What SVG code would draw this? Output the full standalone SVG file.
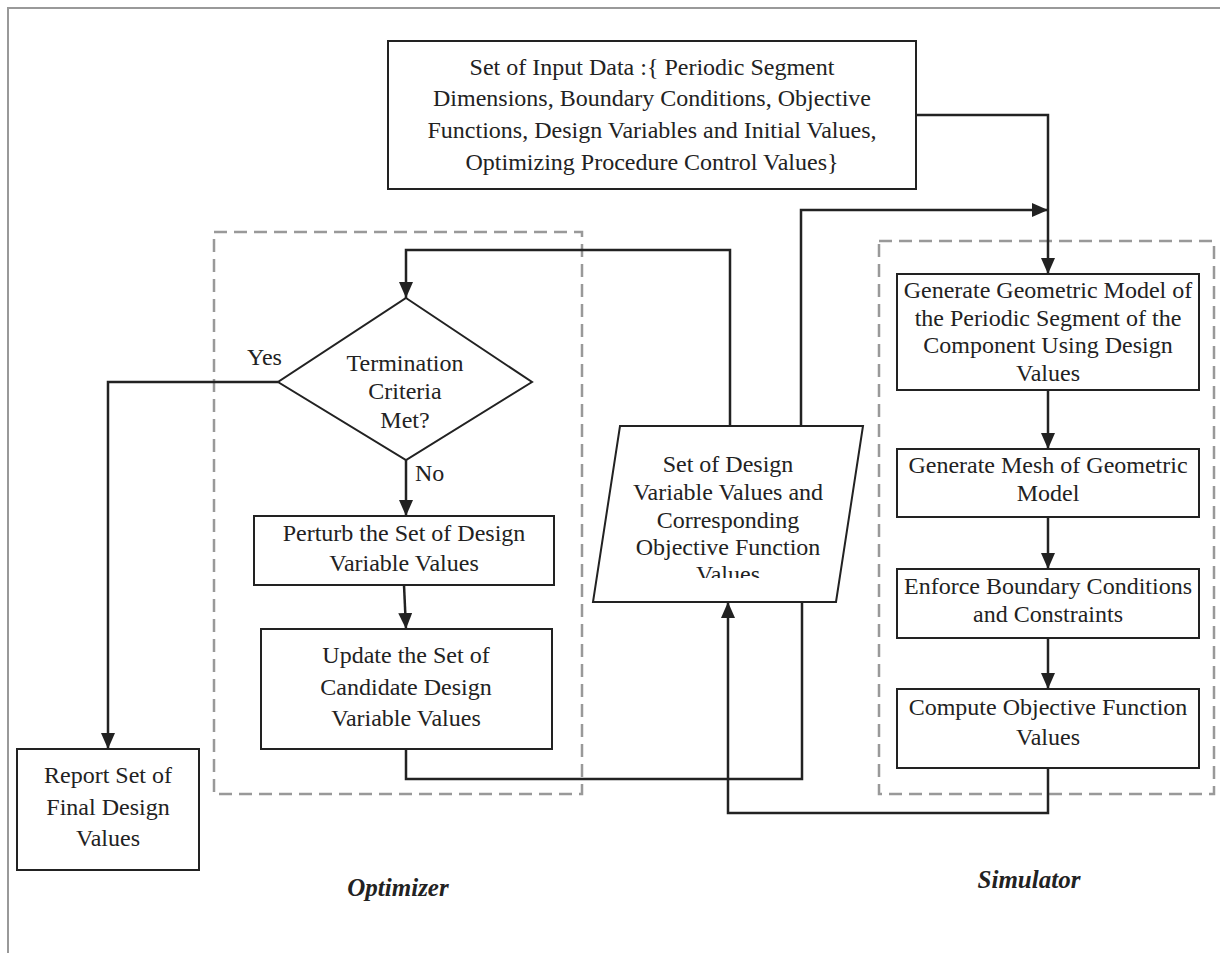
<svg xmlns="http://www.w3.org/2000/svg" width="1220" height="953" viewBox="0 0 1220 953">
  <style>
    .box { fill: #fff; stroke: #222; stroke-width: 2; }
    .frame { fill: none; stroke: #999; stroke-width: 2.5; stroke-dasharray: 13 7; }
    .wire { fill: none; stroke: #222; stroke-width: 2.5; }
    .txt { font-family: "Liberation Serif", "Times New Roman", serif; font-size: 24px; fill: #222; text-anchor: middle; }
    .lbl { font-family: "Liberation Serif", "Times New Roman", serif; font-size: 24px; fill: #222; }
    .title { font-family: "Liberation Serif", "Times New Roman", serif; font-size: 25px; font-weight: bold; font-style: italic; fill: #222; text-anchor: middle; }
  </style>
  <defs>
    <marker id="arrow" markerUnits="userSpaceOnUse" markerWidth="16" markerHeight="14" refX="16" refY="7" orient="auto">
      <path d="M0,0 L16,7 L0,14 Z" fill="#222"/>
    </marker>
    <clipPath id="storeClip">
      <rect x="580" y="420" width="300" height="158"/>
    </clipPath>
  </defs>

  <rect width="1220" height="953" fill="#fff"/>
  <!-- page frame -->
  <rect x="8" y="8" width="1230" height="960" fill="none" stroke="#999" stroke-width="2"/>

  <!-- module outlines -->
  <rect class="frame" x="214" y="232" width="368" height="562"/>
  <rect class="frame" x="879" y="241" width="335" height="553"/>

  <!-- connectors -->
  <g id="connectors">
    <polyline class="wire" points="916,115 1048,115 1048,274" marker-end="url(#arrow)"/>
    <polyline class="wire" points="801,426 801,210 1048,210" marker-end="url(#arrow)"/>
    <polyline class="wire" points="730,426 730,250 406,250 406,298" marker-end="url(#arrow)"/>
    <line class="wire" x1="406" y1="460" x2="406" y2="516" marker-end="url(#arrow)"/>
    <line class="wire" x1="404" y1="585" x2="406" y2="629" marker-end="url(#arrow)"/>
    <polyline class="wire" points="406,749 406,779 802,779 802,602"/>
    <polyline class="wire" points="1048,768 1048,813 728,813 728,602" marker-end="url(#arrow)"/>
    <polyline class="wire" points="278,382 108,382 108,749" marker-end="url(#arrow)"/>
    <line class="wire" x1="1048" y1="390" x2="1048" y2="449" marker-end="url(#arrow)"/>
    <line class="wire" x1="1048" y1="517" x2="1048" y2="569" marker-end="url(#arrow)"/>
    <line class="wire" x1="1048" y1="638" x2="1048" y2="689" marker-end="url(#arrow)"/>
    <text class="lbl" x="247" y="365">Yes</text>
    <text class="lbl" x="415" y="481">No</text>
  </g>

  <g id="input-data">
    <rect class="box" x="388" y="41" width="528" height="148" stroke-width="2.5"/>
    <text class="txt" x="652" y="75">Set of Input Data :{ Periodic Segment</text>
    <text class="txt" x="652" y="106">Dimensions, Boundary Conditions, Objective</text>
    <text class="txt" x="652" y="138">Functions, Design Variables and Initial Values,</text>
    <text class="txt" x="652" y="170">Optimizing Procedure Control Values}</text>
  </g>

  <g id="termination">
    <polygon class="box" points="406,298 532,382 406,460 278,382"/>
    <text class="txt" x="405" y="371">Termination</text>
    <text class="txt" x="405" y="399">Criteria</text>
    <text class="txt" x="405" y="428">Met?</text>
  </g>

  <g id="perturb">
    <rect class="box" x="254" y="516" width="300" height="69"/>
    <text class="txt" x="404" y="541">Perturb the Set of Design</text>
    <text class="txt" x="404" y="571">Variable Values</text>
  </g>

  <g id="update">
    <rect class="box" x="261" y="629" width="291" height="120"/>
    <text class="txt" x="406" y="663">Update the Set of</text>
    <text class="txt" x="406" y="695">Candidate Design</text>
    <text class="txt" x="406" y="726">Variable Values</text>
  </g>

  <g id="report">
    <rect class="box" x="17" y="749" width="182" height="121"/>
    <text class="txt" x="108" y="783">Report Set of</text>
    <text class="txt" x="108" y="815">Final Design</text>
    <text class="txt" x="108" y="846">Values</text>
  </g>

  <g id="design-store">
    <polygon class="box" points="620,426 863,426 836,602 593,602" stroke-width="1.8"/>
    <g clip-path="url(#storeClip)">
      <text class="txt" x="728" y="472">Set of Design</text>
      <text class="txt" x="728" y="500">Variable Values and</text>
      <text class="txt" x="728" y="528">Corresponding</text>
      <text class="txt" x="728" y="555">Objective Function</text>
      <text class="txt" x="728" y="582">Values</text>
    </g>
  </g>

  <g id="geometry">
    <rect class="box" x="897" y="274" width="302" height="116"/>
    <text class="txt" x="1048" y="298">Generate Geometric Model of</text>
    <text class="txt" x="1048" y="326">the Periodic Segment of the</text>
    <text class="txt" x="1048" y="353">Component Using Design</text>
    <text class="txt" x="1048" y="381">Values</text>
  </g>

  <g id="mesh">
    <rect class="box" x="897" y="449" width="302" height="68"/>
    <text class="txt" x="1048" y="473">Generate Mesh of Geometric</text>
    <text class="txt" x="1048" y="501">Model</text>
  </g>

  <g id="constraints">
    <rect class="box" x="897" y="569" width="302" height="69"/>
    <text class="txt" x="1048" y="594">Enforce Boundary Conditions</text>
    <text class="txt" x="1048" y="622">and Constraints</text>
  </g>

  <g id="objective">
    <rect class="box" x="897" y="689" width="302" height="79"/>
    <text class="txt" x="1048" y="715">Compute Objective Function</text>
    <text class="txt" x="1048" y="745">Values</text>
  </g>

  <text class="title" x="398" y="896">Optimizer</text>
  <text class="title" x="1029" y="888">Simulator</text>
</svg>
